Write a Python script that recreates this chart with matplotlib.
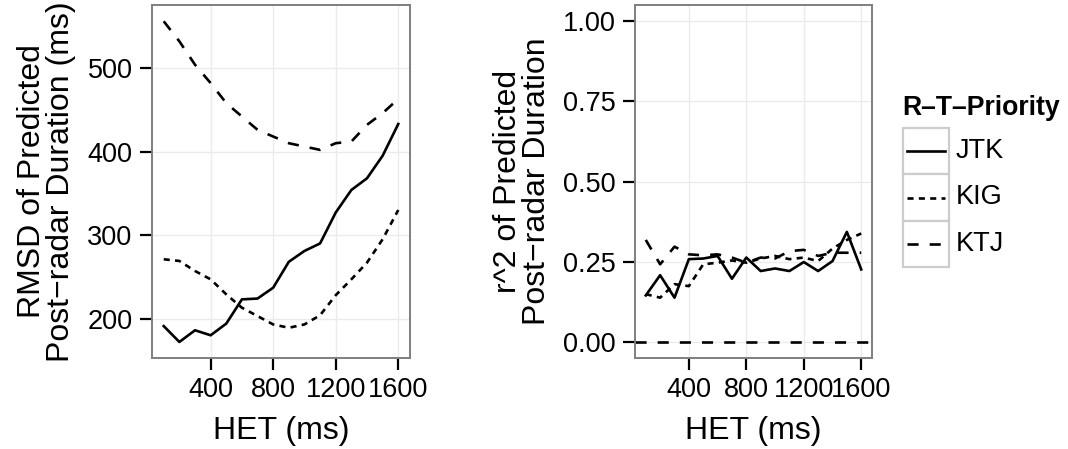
import matplotlib
matplotlib.use("Agg")
import matplotlib.pyplot as plt
from matplotlib.patches import Rectangle
import numpy as np

plt.rcParams['font.family'] = ['Liberation Sans', 'DejaVu Sans']

het = [100, 200, 300, 400, 500, 600, 700, 800, 900, 1000, 1100, 1200, 1300, 1400, 1500, 1600]

# RMSD (ms)
rmsd_jtk = [191, 172, 186, 180, 194, 223, 224, 237, 268, 281, 290, 327, 354, 368, 395, 433]
rmsd_kig = [271, 269, 257, 247, 229, 213, 203, 193, 189, 193, 204, 228, 247, 267, 295, 330]
rmsd_ktj = [556, 532, 504, 482, 458, 442, 426, 418, 410, 406, 402, 410, 412, 432, 446, 463]

# r^2
r2_jtk = [0.145, 0.208, 0.138, 0.258, 0.260, 0.268, 0.197, 0.263, 0.221, 0.229, 0.221, 0.249, 0.221, 0.252, 0.343, 0.226]
r2_kig = [0.149, 0.138, 0.180, 0.174, 0.242, 0.247, 0.254, 0.247, 0.260, 0.268, 0.258, 0.263, 0.252, 0.291, 0.318, 0.338]
r2_ktj = [0.318, 0.242, 0.297, 0.273, 0.270, 0.273, 0.263, 0.247, 0.263, 0.260, 0.283, 0.287, 0.268, 0.278, 0.278, 0.278]

groups = ['JTK', 'KIG', 'KTJ']
styles = {'JTK': '-', 'KIG': (0, (2.3, 2.0)), 'KTJ': (0, (4.2, 4.2))}
lw = 1.9

W, H = 1068, 449
fig = plt.figure(figsize=(W / 100, H / 100), dpi=100)

def px(x0, y0, x1, y1):
    return [x0 / W, 1 - y1 / H, (x1 - x0) / W, (y1 - y0) / H]

ax1 = fig.add_axes(px(152, 5, 410, 358))
ax2 = fig.add_axes(px(635, 5, 872, 358))

for ax in (ax1, ax2):
    ax.set_facecolor('white')
    for s in ax.spines.values():
        s.set_color('#7f7f7f')
        s.set_linewidth(1.4)
    ax.grid(True, color='#ebebeb', lw=1.0)
    ax.set_axisbelow(True)
    ax.tick_params(direction='out', length=8.5, width=1.6, color='black',
                   labelsize=19.5, pad=5.5, labelcolor='black')
    ax.set_xlim(25, 1675)
    ax.set_xticks([400, 800, 1200, 1600])
    ax.set_xlabel('HET (ms)', fontsize=23, labelpad=9)

for g, y in zip(groups, [rmsd_jtk, rmsd_kig, rmsd_ktj]):
    ax1.plot(het, y, color='black', lw=lw, ls=styles[g])
ax1.set_ylim(152.8, 575.5)
ax1.set_yticks([200, 300, 400, 500])
ax1.set_ylabel('RMSD of Predicted\nPost\u2212radar Duration (ms)', fontsize=23,
               labelpad=8, linespacing=0.95)

for g, y in zip(groups, [r2_jtk, r2_kig, r2_ktj]):
    ax2.plot(het, y, color='black', lw=lw, ls=styles[g])
ax2.axhline(0, color='black', lw=lw, ls=(0, (4.2, 4.2)))
ax2.set_ylim(-0.05, 1.05)
ax2.set_yticks([0, 0.25, 0.5, 0.75, 1.0])
ax2.set_yticklabels(['0.00', '0.25', '0.50', '0.75', '1.00'])
ax2.set_ylabel('r^2 of Predicted\nPost\u2212radar Duration', fontsize=23,
               labelpad=8, linespacing=0.95)

# legend
lax = fig.add_axes(px(902.7, 128, 949.3, 267))
lax.set_xlim(0, 1)
lax.set_ylim(0, 3)
lax.axis('off')
for i, g in enumerate(groups):
    yb = 2 - i
    lax.add_patch(Rectangle((0, yb), 1, 1, facecolor='white', edgecolor='#cccccc',
                            lw=1.6, clip_on=False))
    lax.plot([0.09, 0.91], [yb + 0.5, yb + 0.5], color='black', lw=lw, ls=styles[g],
             clip_on=False)
    lax.text(1.13, yb + 0.5, g, fontsize=19.5, va='center', ha='left')
lax.text(0.0, 3.43, 'R\u2013T\u2013Priority', fontsize=19.2, fontweight='bold',
         va='center', ha='left')

fig.savefig('out.png', dpi=100, facecolor='white')
